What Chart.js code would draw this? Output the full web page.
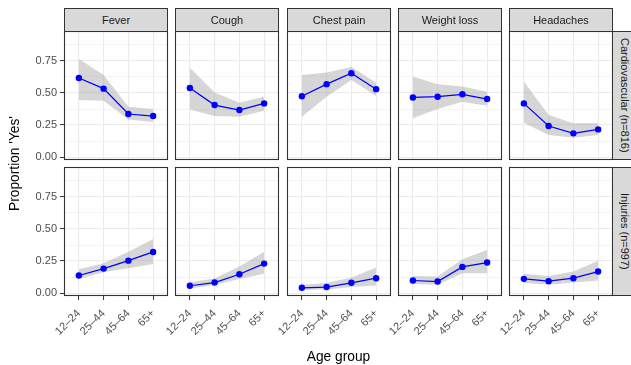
<!DOCTYPE html>
<html>
<head>
<meta charset="utf-8">
<script src="https://cdn.jsdelivr.net/npm/chart.js@4.4.1/dist/chart.umd.min.js"></script>
<style>
  html, body { margin: 0; padding: 0; background: #ffffff; }
  #wrap { position: relative; width: 631px; height: 365px; overflow: hidden;
          font-family: 'Liberation Sans', Arial, sans-serif; }
  #wrap canvas { position: absolute; left: 0; top: 0; }
  .strip { position: absolute; box-sizing: border-box; background: #D9D9D9;
           border: 1px solid #333333; color: #1A1A1A; font-size: 11px; line-height: 13px;
           display: flex; align-items: center; justify-content: center; white-space: nowrap; }
  .strip.side span { writing-mode: vertical-rl; white-space: nowrap; }
  .axis-title { position: absolute; color: #000000; font-size: 13.75px; line-height: 16px;
                display: flex; align-items: center; justify-content: center; white-space: nowrap; }
  .axis-title.vertical span { writing-mode: vertical-rl; transform: rotate(180deg); }
</style>
</head>
<body>
<div id="wrap"></div>
<script>
// Categories and facet labels
const ageGroups = ['12–24', '25–44', '45–64', '65+'];
const symptoms = ['Fever', 'Cough', 'Chest pain', 'Weight loss', 'Headaches'];
const groups = ['Cardiovascular (n=816)', 'Injuries (n=997)'];
const xTitle = 'Age group';
const yTitle = "Proportion 'Yes'";

// Y axis: labelled (major) ticks and minor grid positions
const yMajorTicks = [0, 0.25, 0.5, 0.75];
const yMinorTicks = [0.125, 0.375, 0.625, 0.875];

// Proportion answering 'Yes', one row per symptom, one value per age group
const cardioEst = [
  [0.617, 0.534, 0.336, 0.320],
  [0.539, 0.406, 0.367, 0.419],
  [0.475, 0.569, 0.654, 0.530],
  [0.465, 0.471, 0.490, 0.453],
  [0.419, 0.242, 0.185, 0.216]
];
const cardioLow = [
  [0.445, 0.440, 0.294, 0.273],
  [0.372, 0.320, 0.315, 0.362],
  [0.315, 0.471, 0.602, 0.477],
  [0.302, 0.375, 0.432, 0.401],
  [0.268, 0.172, 0.151, 0.172]
];
const cardioHigh = [
  [0.766, 0.641, 0.393, 0.375],
  [0.698, 0.503, 0.424, 0.471],
  [0.641, 0.661, 0.703, 0.580],
  [0.628, 0.568, 0.550, 0.510],
  [0.589, 0.328, 0.263, 0.263]
];

const injuryEst = [
  [0.137, 0.191, 0.253, 0.321],
  [0.057, 0.082, 0.147, 0.230],
  [0.041, 0.047, 0.080, 0.116],
  [0.098, 0.090, 0.204, 0.238],
  [0.111, 0.093, 0.116, 0.168]
];
const injuryLow = [
  [0.111, 0.163, 0.194, 0.227],
  [0.036, 0.062, 0.109, 0.150],
  [0.026, 0.028, 0.047, 0.059],
  [0.070, 0.064, 0.155, 0.155],
  [0.078, 0.064, 0.082, 0.098]
];
const injuryHigh = [
  [0.186, 0.233, 0.323, 0.421],
  [0.085, 0.113, 0.207, 0.323],
  [0.064, 0.078, 0.121, 0.199],
  [0.134, 0.129, 0.264, 0.336],
  [0.150, 0.134, 0.168, 0.253]
];

// Panel layout (pixels)
const W = 631, H = 365;
const PANEL_LEFT = [64, 175, 287, 398, 509];
const PANEL_W = 104, PANEL_H = 129;
const ROW_TOP = [31, 167];
const STRIP = 23;
const Y_AXIS_W = 64, X_AXIS_H = 54;
const FONT = "'Liberation Sans', Arial, sans-serif";

const wrap = document.getElementById('wrap');

// Panel outline drawn over each plotting area
const panelBorder = {
  id: 'panelBorder',
  afterDraw(chart) {
    const a = chart.chartArea, ctx = chart.ctx;
    ctx.save();
    ctx.strokeStyle = '#333333';
    ctx.lineWidth = 1.1;
    ctx.strokeRect(a.left + 0.5, a.top + 0.5, a.right - a.left - 1, a.bottom - a.top - 1);
    ctx.restore();
  }
};

const toPoints = arr => arr.map((v, i) => ({ x: i, y: v }));
const yTickValues = [...yMajorTicks, ...yMinorTicks].sort((a, b) => a - b);
const isMajor = v => yMajorTicks.some(t => Math.abs(t - v) < 1e-9);

function panel(row, col, est, low, high) {
  const canvas = document.createElement('canvas');
  canvas.width = W; canvas.height = H;
  wrap.appendChild(canvas);

  const leftCol = col === 0, bottomRow = row === 1;
  const yw = leftCol ? Y_AXIS_W : 0;
  const xh = bottomRow ? X_AXIS_H : 0;
  const L = PANEL_LEFT[col], T = ROW_TOP[row];

  new Chart(canvas, {
    type: 'line',
    data: {
      datasets: [
        { data: toPoints(est), borderColor: '#0000FF', borderWidth: 1.25,
          pointRadius: 3.2, pointBorderWidth: 0, pointBackgroundColor: '#0000FF',
          pointBorderColor: '#0000FF', fill: false, tension: 0, order: 0 },
        { data: toPoints(low), borderColor: 'rgba(0,0,0,0)', borderWidth: 0,
          pointRadius: 0, fill: false, order: 1 },
        { data: toPoints(high), borderColor: 'rgba(0,0,0,0)', borderWidth: 0,
          pointRadius: 0, fill: '-1', backgroundColor: 'rgba(153,153,153,0.4)', order: 2 }
      ]
    },
    options: {
      responsive: false,
      animation: false,
      events: [],
      layout: { padding: { left: L - yw, top: T, right: W - (L + PANEL_W), bottom: H - (T + PANEL_H) - xh } },
      plugins: { legend: { display: false }, tooltip: { enabled: false }, title: { display: false } },
      scales: {
        x: {
          type: 'linear', min: -0.6, max: 3.6,
          afterBuildTicks: s => { s.ticks = ageGroups.map((_, i) => ({ value: i })); },
          afterFit: s => { s.height = xh; s.paddingLeft = s.paddingRight = s.paddingTop = s.paddingBottom = 0; },
          border: { display: false },
          grid: { color: '#EBEBEB', lineWidth: 1.1, drawTicks: bottomRow, tickLength: 4,
                  tickColor: '#333333', tickWidth: 1 },
          ticks: { display: bottomRow, autoSkip: false, minRotation: 45, maxRotation: 45,
                   padding: 7, color: '#4D4D4D', font: { family: FONT, size: 11 },
                   callback: v => ageGroups[v] }
        },
        y: {
          type: 'linear', min: -0.023, max: 0.984,
          afterBuildTicks: s => { s.ticks = yTickValues.map(v => ({ value: v })); },
          afterFit: s => { s.width = yw; s.paddingLeft = s.paddingRight = s.paddingTop = s.paddingBottom = 0; },
          border: { display: false },
          grid: { color: '#EBEBEB',
                  lineWidth: ctx => (ctx.tick && isMajor(ctx.tick.value)) ? 1.1 : 0.55,
                  drawTicks: leftCol, tickLength: 4, tickWidth: 1,
                  tickColor: ctx => (ctx.tick && isMajor(ctx.tick.value)) ? '#333333' : 'rgba(0,0,0,0)' },
          ticks: { display: leftCol, autoSkip: false, padding: 3, color: '#4D4D4D',
                   font: { family: FONT, size: 11 },
                   callback: v => isMajor(v) ? v.toFixed(2) : '' }
        }
      }
    },
    plugins: [panelBorder]
  });
}

const rows = [
  [cardioEst, cardioLow, cardioHigh],
  [injuryEst, injuryLow, injuryHigh]
];
rows.forEach(([est, low, high], r) => {
  symptoms.forEach((_, c) => panel(r, c, est[c], low[c], high[c]));
});

// Facet strips
symptoms.forEach((name, c) => {
  const d = document.createElement('div');
  d.className = 'strip';
  d.style.left = PANEL_LEFT[c] + 'px';
  d.style.top = (ROW_TOP[0] - STRIP) + 'px';
  d.style.width = PANEL_W + 'px';
  d.style.height = (STRIP + 1) + 'px';
  d.textContent = name;
  wrap.appendChild(d);
});
groups.forEach((name, r) => {
  const d = document.createElement('div');
  d.className = 'strip side';
  d.style.left = (PANEL_LEFT[4] + PANEL_W - 1) + 'px';
  d.style.top = ROW_TOP[r] + 'px';
  d.style.width = (STRIP + 1) + 'px';
  d.style.height = PANEL_H + 'px';
  const s = document.createElement('span');
  s.textContent = name;
  d.appendChild(s);
  wrap.appendChild(d);
});

// Axis titles
const xt = document.createElement('div');
xt.className = 'axis-title';
xt.textContent = xTitle;
xt.style.left = PANEL_LEFT[0] + 'px';
xt.style.width = (PANEL_LEFT[4] + PANEL_W - PANEL_LEFT[0]) + 'px';
xt.style.top = '349px';
xt.style.height = '16px';
wrap.appendChild(xt);

const yt = document.createElement('div');
yt.className = 'axis-title vertical';
yt.style.left = '7px';
yt.style.width = '16px';
yt.style.top = ROW_TOP[0] + 'px';
yt.style.height = (ROW_TOP[1] + PANEL_H - ROW_TOP[0]) + 'px';
const ys = document.createElement('span');
ys.textContent = yTitle;
yt.appendChild(ys);
wrap.appendChild(yt);
</script>
</body>
</html>
